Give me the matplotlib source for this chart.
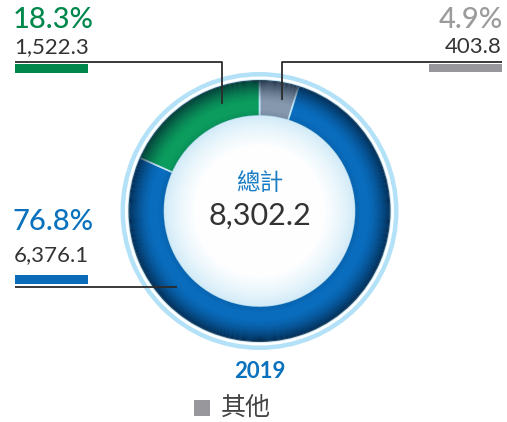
import matplotlib
matplotlib.use("Agg")
import matplotlib.pyplot as plt
from matplotlib.patches import Wedge, Circle, Rectangle
import numpy as np

# ---- data ----
categories = ["其他", "Blue segment", "Green segment"]
values = [403.8, 6376.1, 1522.3]
percents = ["4.9%", "76.8%", "18.3%"]
value_labels = ["403.8", "6,376.1", "1,522.3"]
total_label = "8,302.2"
center_title = "總計"
year_label = "2019"
legend_label = "其他"

colors = ["#8698ad", "#0a6cbc", "#0c9c5e"]
pct_colors = ["#9b9b9b", "#0a72bd", "#00874c"]

W, H = 507, 422
fig = plt.figure(figsize=(W / 100, H / 100), dpi=100)
ax = fig.add_axes([0, 0, 1, 1])

def Y(y):
    return H - y

cx, cy = 259.5, Y(211)
R_out, R_in = 131, 95

# outer light-blue ring
ax.add_patch(Wedge((cx, cy), 139, 0, 360, width=4.5, facecolor="#b3e1f7", edgecolor="none", zorder=0))

# donut
wedges, _ = ax.pie(values, radius=R_out, center=(cx, cy), startangle=90, counterclock=False,
                   colors=colors, frame=True,
                   wedgeprops=dict(width=R_out - R_in, edgecolor="#bfe6f8", linewidth=1.2, zorder=1))
ax.set_xlim(0, W)
ax.set_ylim(0, H)
ax.set_aspect("equal")
ax.axis("off")

# shading: darker outer rim
n = 22
for i in range(n):
    r = R_out - i * 1.0
    a = 0.75 * (1 - i / n) ** 1.6
    ax.add_patch(Wedge((cx, cy), r, 0, 360, width=1.0, facecolor="#001228",
                       alpha=a, edgecolor="none", linewidth=0, zorder=2))
# slight darker near inner edge
for i in range(6):
    r = R_in + 6 - i
    ax.add_patch(Wedge((cx, cy), r, 0, 360, width=1, facecolor="#001228",
                       alpha=0.08 * (i + 1) / 6, edgecolor="none", linewidth=0, zorder=2))

# inner white circle with light blue edge gradient
ax.add_patch(Circle((cx, cy), R_in, facecolor="#d4ecf8", edgecolor="none", zorder=3))
steps = 30
for i in range(steps):
    r = R_in - 1 - i * 1.0
    t = (i / steps) ** 0.8
    c = np.array([0xd4, 0xec, 0xf8]) / 255 * (1 - t) + np.array([1, 1, 1]) * t
    ax.add_patch(Circle((cx, cy), r, facecolor=c, edgecolor="none", zorder=3))

fam_lat = ["Lato", "DejaVu Sans"]
fam_cjk = ["Noto Sans CJK TC", "DejaVu Sans"]

# center text
ax.text(cx, Y(184), center_title, color="#1a7dc4", fontsize=17, ha="center", va="center",
        family=fam_cjk, zorder=5)
ax.text(cx, Y(216), total_label, color="#333333", fontsize=22, ha="center", va="center",
        family=fam_lat, fontweight="normal", zorder=5)

# year + legend
ax.text(cx, Y(371), year_label, color="#0a72bd", fontsize=16, ha="center", va="center",
        family=fam_lat, fontweight="bold")
ax.add_patch(Rectangle((194, Y(416)), 16, 16, facecolor="#98989c", edgecolor="none"))
ax.text(221, Y(408), legend_label, color="#444444", fontsize=18, ha="left", va="center", family=fam_cjk)

line_kw = dict(color="#2b2b2b", linewidth=1.3, solid_capstyle="butt", zorder=6)

# green label (top-left)
ax.text(13, Y(20), percents[2], color=pct_colors[2], fontsize=21, ha="left", va="center",
        family=fam_lat, fontweight="medium")
ax.text(14, Y(47), value_labels[2], color="#333333", fontsize=16, ha="left", va="center",
        family=fam_lat, fontweight="normal")
ax.add_patch(Rectangle((15, Y(73)), 73, 9, facecolor="#00874c", edgecolor="none"))
ax.plot([15, 222, 222], [Y(62), Y(62), Y(104)], **line_kw)

# gray label (top-right)
ax.text(503, Y(20), percents[0], color=pct_colors[0], fontsize=21, ha="right", va="center",
        family=fam_lat, fontweight="medium")
ax.text(502, Y(47), value_labels[0], color="#333333", fontsize=16, ha="right", va="center",
        family=fam_lat, fontweight="normal")
ax.add_patch(Rectangle((429, Y(72)), 73, 8, facecolor="#98989c", edgecolor="none"))
ax.plot([502, 282, 282], [Y(62), Y(62), Y(100)], **line_kw)

# blue label (left)
ax.text(13, Y(222), percents[1], color=pct_colors[1], fontsize=21, ha="left", va="center",
        family=fam_lat, fontweight="medium")
ax.text(14, Y(255), value_labels[1], color="#333333", fontsize=16, ha="left", va="center",
        family=fam_lat, fontweight="normal")
ax.add_patch(Rectangle((15, Y(284)), 73, 9, facecolor="#0a6cb8", edgecolor="none"))
ax.plot([15, 177], [Y(287), Y(287)], **line_kw)

fig.savefig("out.png", dpi=100)
